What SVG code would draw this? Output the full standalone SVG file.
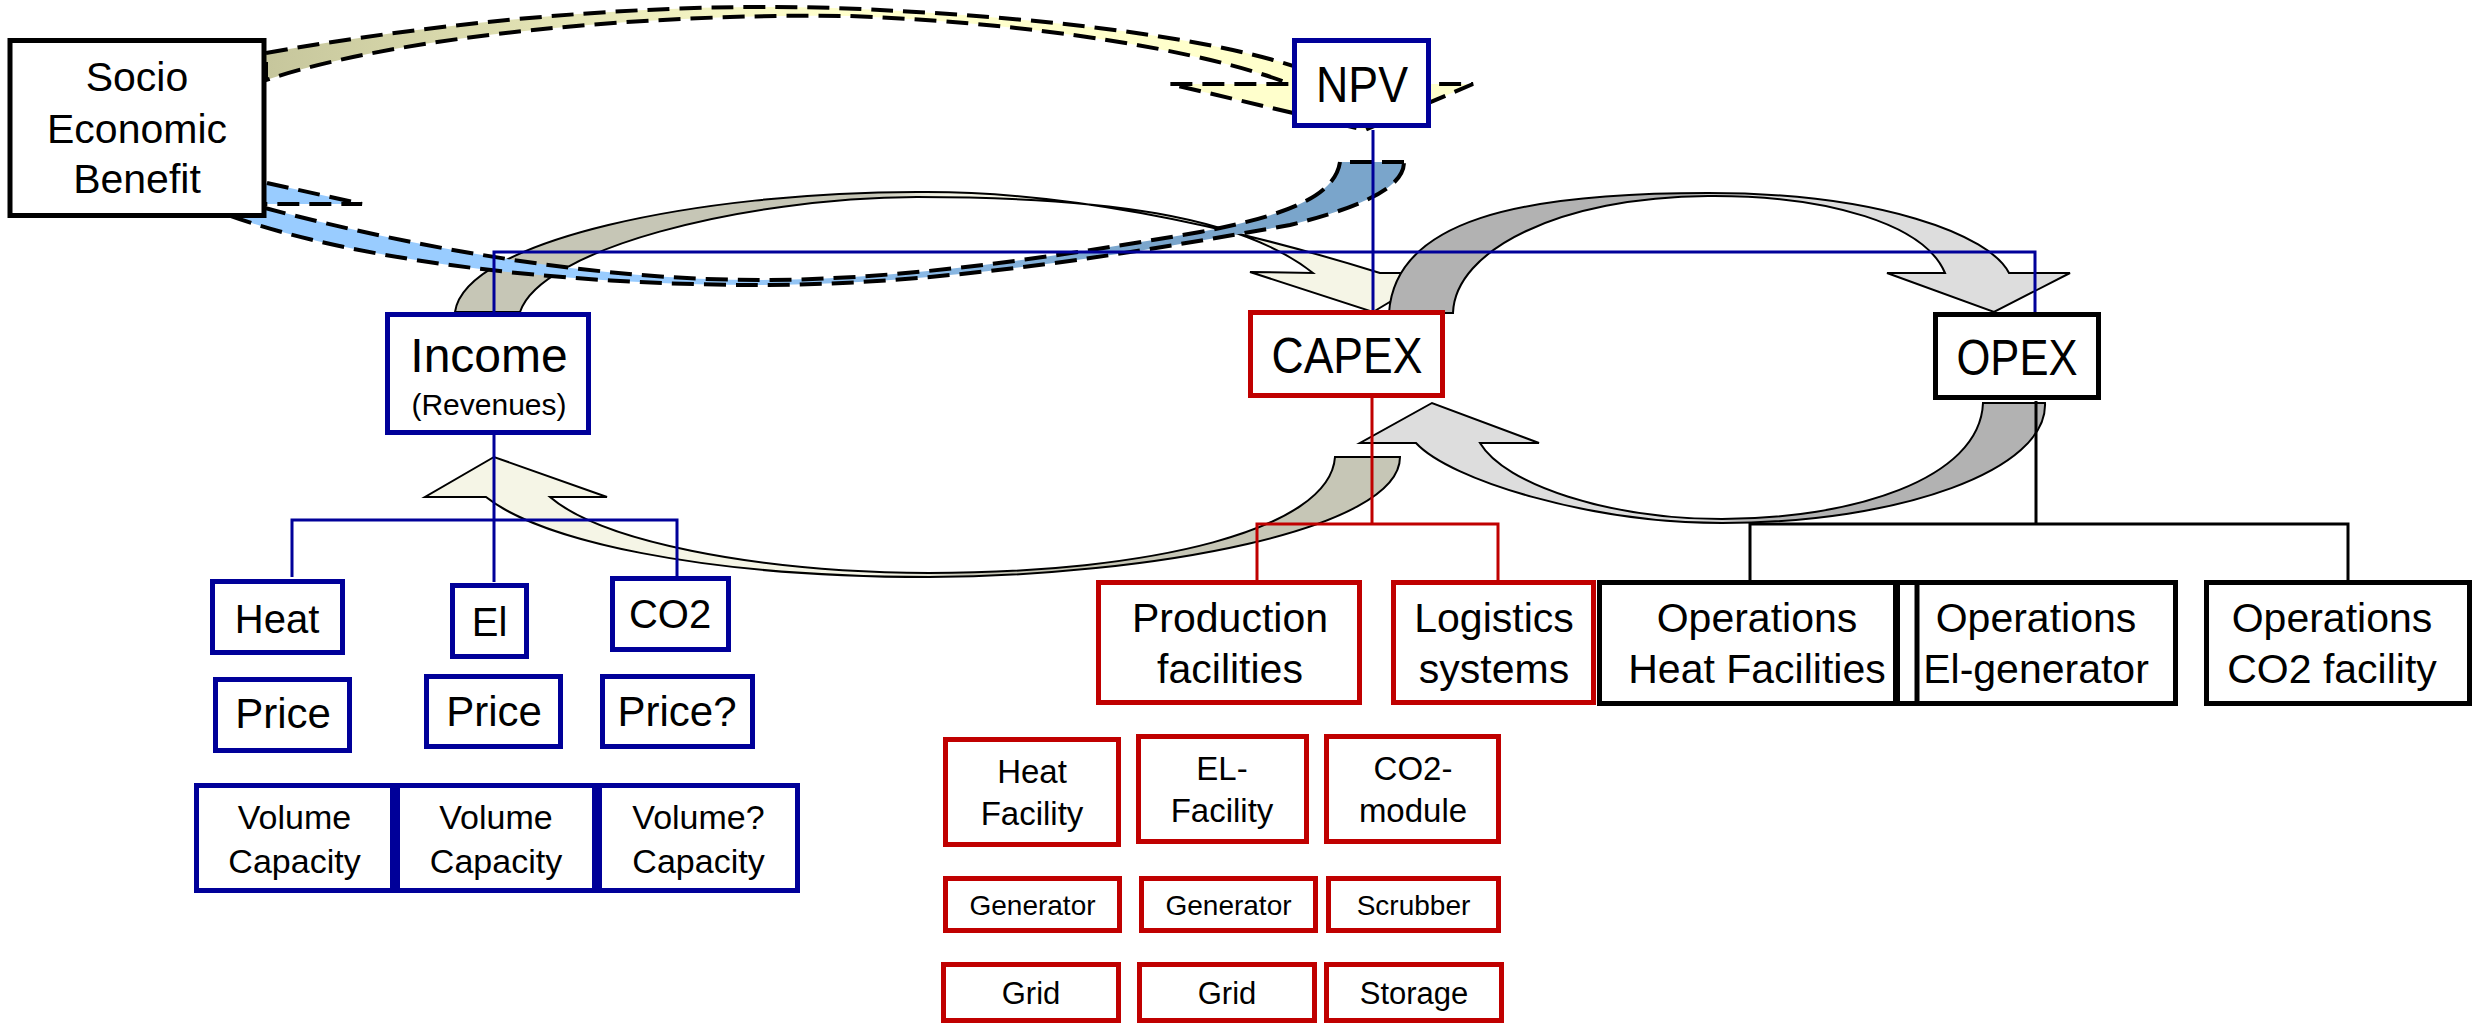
<svg xmlns="http://www.w3.org/2000/svg" width="2474" height="1025" viewBox="0 0 2474 1025">
<style>
text{font-family:"Liberation Sans",Arial,sans-serif;fill:#000;text-anchor:middle}
.bx{fill:#fff;stroke-width:5}
.b{stroke:#000099}
.r{stroke:#c00000}
.k{stroke:#000}
.ln{fill:none;stroke-width:3}
.arr{stroke:#000;stroke-width:2;stroke-linejoin:miter}
.dash{stroke:#000;stroke-width:4;stroke-dasharray:22 10}
.f41{font-size:41px}
.f40{font-size:40px}
.f42{font-size:42px}
.f34{font-size:34px}
.f33{font-size:33px}
.f28{font-size:28px}
.f31{font-size:31px}
</style>
<defs>
<linearGradient id="gTan" gradientUnits="userSpaceOnUse" x1="266" y1="0" x2="820" y2="0">
<stop offset="0" stop-color="#c6c69c"/><stop offset="1" stop-color="#ffffcc"/>
</linearGradient>
<linearGradient id="gBlue" gradientUnits="userSpaceOnUse" x1="700" y1="0" x2="1150" y2="0">
<stop offset="0" stop-color="#99ccff"/><stop offset="1" stop-color="#7aa5cb"/>
</linearGradient>
<linearGradient id="gA" gradientUnits="userSpaceOnUse" x1="455" y1="0" x2="1440" y2="0">
<stop offset="0" stop-color="#c6c6b6"/><stop offset="0.42" stop-color="#c6c6b6"/><stop offset="0.5" stop-color="#f5f5e6"/><stop offset="1" stop-color="#f5f5e6"/>
</linearGradient>
<linearGradient id="gB" gradientUnits="userSpaceOnUse" x1="1389" y1="0" x2="2070" y2="0">
<stop offset="0" stop-color="#b2b2b2"/><stop offset="0.42" stop-color="#b2b2b2"/><stop offset="0.5" stop-color="#dddddd"/><stop offset="1" stop-color="#dddddd"/>
</linearGradient>
<linearGradient id="gC" gradientUnits="userSpaceOnUse" x1="1360" y1="0" x2="2045" y2="0">
<stop offset="0" stop-color="#dddddd"/><stop offset="0.5" stop-color="#dddddd"/><stop offset="0.58" stop-color="#b2b2b2"/><stop offset="1" stop-color="#b2b2b2"/>
</linearGradient>
<linearGradient id="gD" gradientUnits="userSpaceOnUse" x1="425" y1="0" x2="1400" y2="0">
<stop offset="0" stop-color="#f5f5e6"/><stop offset="0.48" stop-color="#f5f5e6"/><stop offset="0.56" stop-color="#c6c6b6"/><stop offset="1" stop-color="#c6c6b6"/>
</linearGradient>
</defs>

<g id="connectors">
<!-- dashed curved arrow Socio -> NPV -->
<path class="dash" fill="url(#gTan)" d="M266,53 C480,15 700,0 880,10 C1050,18 1250,40 1340,84 L1473,84 L1365,130 L1170,84 L1290,84 C1230,60 1080,25 850,16 C650,13 400,35 266,80 Z"/>
<!-- solid curved arrows -->
<path class="arr" fill="url(#gA)" d="M455,312 C465,240 700,192 917,192 C1100,190 1290,245 1380,273 L1438,273 L1373,312 L1250,272 L1313,273 C1240,215 1100,197 917,197 C740,198 540,250 520,312 Z"/>
<path class="arr" fill="url(#gB)" d="M1389,313 C1395,220 1520,193 1708,193 C1880,193 1990,235 2009,273 L2070,273 L1994,312 L1887,273 L1945,273 C1925,225 1830,195 1708,196 C1560,197 1455,250 1453,313 Z"/>
<path class="arr" fill="url(#gC)" d="M2045,403 C2048,470 1900,523 1722,523 C1590,523 1450,480 1416,443 L1360,443 L1432,403 L1539,443 L1480,443 C1505,485 1610,519 1722,519 C1850,519 1980,480 1983,403 Z"/>
<path class="arr" fill="url(#gD)" d="M1400,457 C1400,530 1150,576 929,577 C700,577 540,540 486,497 L425,497 L494,457 L607,497 L550,497 C600,540 750,572 929,573 C1150,573 1330,530 1335,457 Z"/>
<!-- dashed curved arrow NPV -> Socio -->
<path class="dash" fill="url(#gBlue)" d="M1404,162 L1340,162 C1335,195 1290,215 1200,232 C1050,258 900,280 760,280 C600,280 420,250 250,204 L362,204 L150,157 L60,204 L200,204 C330,260 560,285 760,285 C950,285 1150,250 1290,225 C1370,205 1404,185 1404,162 Z"/>
<!-- tree lines -->
<path class="ln b" d="M1373,130 V313"/>
<path class="ln b" d="M494,313 V252 H2035 V313"/>
<path class="ln b" d="M494,434 V582 M292,577 V520 H677 V578"/>
<path class="ln r" d="M1372,397 V524 M1257,582 V524 H1498 V582"/>
<path class="ln k" d="M2036,401 V524 M1750,582 V524 H2348 V582"/>
</g>

<g id="socio"><rect class="bx k" x="10" y="40.5" width="254" height="175"/>
<text class="f41" x="137" y="91">Socio</text><text class="f41" x="137" y="143">Economic</text><text class="f41" x="137" y="193">Benefit</text></g>
<g id="npv"><rect class="bx b" x="1294.5" y="40.5" width="134" height="85"/>
<text x="1362" y="102" font-size="50" textLength="92" lengthAdjust="spacingAndGlyphs">NPV</text></g>
<g id="income"><rect class="bx b" x="387.5" y="314.5" width="201" height="118"/>
<text x="489" y="372" font-size="48">Income</text><text x="489" y="415" font-size="30">(Revenues)</text></g>
<g id="capex"><rect class="bx r" x="1250.5" y="312.5" width="192" height="83" stroke-width="6"/>
<text x="1347" y="373" font-size="50" textLength="151" lengthAdjust="spacingAndGlyphs">CAPEX</text></g>
<g id="opex"><rect class="bx k" x="1935.5" y="314.5" width="163" height="83" stroke-width="6"/>
<text x="2017" y="375" font-size="50" textLength="121" lengthAdjust="spacingAndGlyphs">OPEX</text></g>

<g id="heat"><rect class="bx b" x="212.5" y="581.5" width="130" height="71"/><text class="f40" x="277" y="633">Heat</text></g>
<g id="el"><rect class="bx b" x="452.5" y="585.5" width="74" height="71"/><text class="f40" x="489.5" y="636">El</text></g>
<g id="co2"><rect class="bx b" x="612.5" y="578.5" width="116" height="71"/><text class="f40" x="670" y="628">CO2</text></g>
<g id="price-heat"><rect class="bx b" x="215.5" y="679.5" width="134" height="71"/><text class="f42" x="283" y="728">Price</text></g>
<g id="price-el"><rect class="bx b" x="426.5" y="676.5" width="134" height="70"/><text class="f42" x="494" y="726">Price</text></g>
<g id="price-co2"><rect class="bx b" x="602.5" y="676.5" width="150" height="70"/><text class="f42" x="677" y="726">Price?</text></g>
<g id="vol-heat"><rect class="bx b" x="196.5" y="785.5" width="196" height="105"/><text class="f34" x="294.5" y="829">Volume</text><text class="f34" x="294.5" y="873">Capacity</text></g>
<g id="vol-el"><rect class="bx b" x="397.5" y="785.5" width="197" height="105"/><text class="f34" x="496" y="829">Volume</text><text class="f34" x="496" y="873">Capacity</text></g>
<g id="vol-co2"><rect class="bx b" x="599.5" y="785.5" width="198" height="105"/><text class="f34" x="698.5" y="829">Volume?</text><text class="f34" x="698.5" y="873">Capacity</text></g>

<g id="production"><rect class="bx r" x="1098.5" y="582.5" width="261" height="120"/><text class="f41" x="1230" y="632">Production</text><text class="f41" x="1230" y="683">facilities</text></g>
<g id="logistics"><rect class="bx r" x="1393.5" y="582.5" width="200" height="120"/><text class="f41" x="1494" y="632">Logistics</text><text class="f41" x="1494" y="683">systems</text></g>
<g id="ops-heat"><rect class="bx k" x="1599.5" y="582.5" width="296" height="121"/><text class="f41" x="1757" y="632">Operations</text><text class="f41" x="1757" y="683">Heat Facilities</text></g>
<g id="ops-el"><rect class="bx k" x="1897.5" y="582.5" width="278" height="121"/><path class="k" stroke-width="5" d="M1917,582.5 V703.5"/><text class="f41" x="2036" y="632">Operations</text><text class="f41" x="2036" y="683">El-generator</text></g>
<g id="ops-co2"><rect class="bx k" x="2206.5" y="582.5" width="263" height="121"/><text class="f41" x="2332" y="632">Operations</text><text class="f41" x="2332" y="683">CO2 facility</text></g>

<g id="heat-facility"><rect class="bx r" x="945.5" y="739.5" width="173" height="105"/><text class="f33" x="1032" y="783">Heat</text><text class="f33" x="1032" y="825">Facility</text></g>
<g id="el-facility"><rect class="bx r" x="1138.5" y="736.5" width="168" height="105"/><text class="f33" x="1222" y="780">EL-</text><text class="f33" x="1222" y="822">Facility</text></g>
<g id="co2-module"><rect class="bx r" x="1326.5" y="736.5" width="172" height="105"/><text class="f33" x="1413" y="780">CO2-</text><text class="f33" x="1413" y="822">module</text></g>
<g id="gen-heat"><rect class="bx r" x="945.5" y="878.5" width="174" height="52"/><text class="f28" x="1032.5" y="915">Generator</text></g>
<g id="gen-el"><rect class="bx r" x="1141.5" y="878.5" width="174" height="52"/><text class="f28" x="1228.5" y="915">Generator</text></g>
<g id="scrubber"><rect class="bx r" x="1328.5" y="878.5" width="170" height="52"/><text class="f28" x="1413.5" y="915">Scrubber</text></g>
<g id="grid-heat"><rect class="bx r" x="943.5" y="964.5" width="175" height="56"/><text class="f31" x="1031" y="1004">Grid</text></g>
<g id="grid-el"><rect class="bx r" x="1139.5" y="964.5" width="175" height="56"/><text class="f31" x="1227" y="1004">Grid</text></g>
<g id="storage"><rect class="bx r" x="1326.5" y="964.5" width="175" height="56"/><text class="f31" x="1414" y="1004">Storage</text></g>
</svg>
